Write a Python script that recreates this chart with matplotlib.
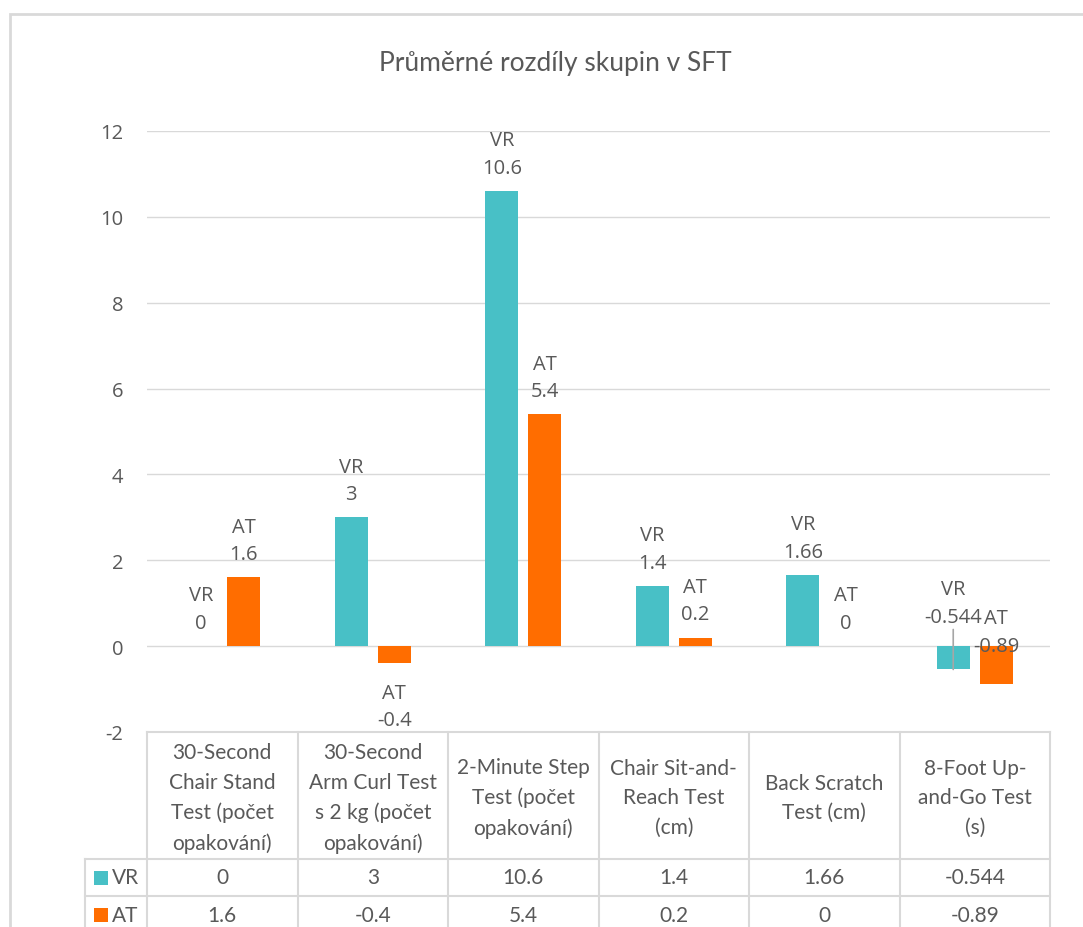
import numpy as np
import matplotlib.pyplot as plt
from matplotlib.patches import Rectangle
from matplotlib.transforms import ScaledTranslation

plt.rcParams["axes.unicode_minus"] = False

# data
categories = [
    "30-Second\nChair Stand\nTest (počet\nopakování)",
    "30-Second\nArm Curl Test\ns 2 kg (počet\nopakování)",
    "2-Minute Step\nTest (počet\nopakování)",
    "Chair Sit-and-\nReach Test\n(cm)",
    "Back Scratch\nTest (cm)",
    "8-Foot Up-\nand-Go Test\n(s)",
]
series_names = ["VR", "AT"]
vr_values = [0, 3, 10.6, 1.4, 1.66, -0.544]
at_values = [1.6, -0.4, 5.4, 0.2, 0, -0.89]
y_ticks = [-2, 0, 2, 4, 6, 8, 10, 12]
title = "Průměrné rozdíly skupin v SFT"

colors = {"VR": "#48C0C6", "AT": "#FF6D00"}
text_c = "#595959"
line_c = "#D9D9D9"
ui_font = ["Open Sans", "DejaVu Sans"]
tab_font = ["Lato", "DejaVu Sans"]

W, H = 1083, 928
fig = plt.figure(figsize=(W / 100, H / 100), dpi=100)


def box(l, t, r, b):
    return [l / W, 1 - b / H, (r - l) / W, (b - t) / H]


# outer chart frame (cut by the image edge on the right/bottom)
fig.patches.append(Rectangle((9.5 / W, -0.1), 1.2, 1 - 14.5 / H + 0.1,
                             transform=fig.transFigure, fill=False,
                             edgecolor=line_c, lw=2))

fig.text(555 / W, 1 - 63 / H, title, ha="center", va="center",
         fontsize=19, color=text_c, family=tab_font)

ax = fig.add_axes(box(147, 132, 1050, 733))
ax.set_xlim(0, 6)
ax.set_ylim(-2, 12)
ax.set_yticks(y_ticks)
ax.set_xticks([])
for s in ax.spines.values():
    s.set_visible(False)
ax.yaxis.grid(True, color=line_c, lw=1)
ax.set_axisbelow(True)
ax.tick_params(axis="y", length=0, pad=17, labelsize=14.5, labelcolor=text_c)
for t in ax.get_yticklabels():
    t.set_family(ui_font)

x = np.arange(len(categories)) + 0.5
off, bw = 0.143, 0.22
series = {"VR": vr_values, "AT": at_values}
ax.bar(x - off, vr_values, bw, color=colors["VR"], zorder=2)
ax.bar(x + off, at_values, bw, color=colors["AT"], zorder=2)

# label placement tweaks for the crowded last group
overrides = {
    ("VR", 5): dict(anchor=0, dy=14, va="bottom", leader=True),
    ("AT", 5): dict(anchor=0, dy=-7, va="bottom"),
}

for k, name in enumerate(series_names):
    xs = x - off if k == 0 else x + off
    for i, v in enumerate(series[name]):
        o = overrides.get((name, i), {})
        dy = o.get("dy", 9.5 if v >= 0 else -14)
        va = o.get("va", "bottom" if v >= 0 else "top")
        anchor = o.get("anchor", v)
        tr = ax.transData + ScaledTranslation(0, dy / 72, fig.dpi_scale_trans)
        arrow = None
        if o.get("leader"):
            arrow = dict(arrowstyle="-", color="#A6A6A6", lw=1.2,
                         shrinkA=0, shrinkB=0, relpos=(0.5, 0))
        ax.annotate(f"{name}\n{v:g}", xy=(xs[i], v), xytext=(xs[i], anchor),
                    textcoords=tr, ha="center", va=va, fontsize=14.5,
                    color=text_c, family=ui_font, linespacing=1.5,
                    arrowprops=arrow, zorder=3)

# data table under the plot
head_h, row_h = 127, 37
tab = fig.add_axes(box(85, 733, 1050, 733 + head_h + 3 * row_h))
leg_w = (147 - 85) / ((1050 - 147) / 6)
tab.set_xlim(-leg_w, 6)
tab.set_ylim(head_h + 3 * row_h, 0)
tab.axis("off")
lk = dict(color=line_c, lw=1.5, clip_on=False)
tab.plot([0, 6], [0, 0], **lk)
for xc in range(7):
    tab.plot([xc, xc], [0, head_h + 2 * row_h], **lk)
for r in range(3):
    tab.plot([-leg_w, 6], [head_h + r * row_h] * 2, **lk)
tab.plot([-leg_w, -leg_w], [head_h, head_h + 2 * row_h], **lk)

for i, c in enumerate(categories):
    tab.text(i + 0.5, head_h / 2 + 2, c, ha="center", va="center",
             fontsize=15, color=text_c, family=tab_font, linespacing=1.6)
for r, name in enumerate(series_names):
    yc = head_h + (r + 0.5) * row_h
    tab.add_patch(Rectangle((-leg_w + 0.06, yc - 7), 0.095, 14,
                            color=colors[name], lw=0))
    tab.text(-leg_w + 0.18, yc, name, ha="left", va="center", fontsize=15,
             color=text_c, family=tab_font)
    for i, v in enumerate(series[name]):
        tab.text(i + 0.5, yc, f"{v:g}", ha="center", va="center",
                 fontsize=15, color=text_c, family=tab_font)

fig.savefig("out.png", dpi=100)
